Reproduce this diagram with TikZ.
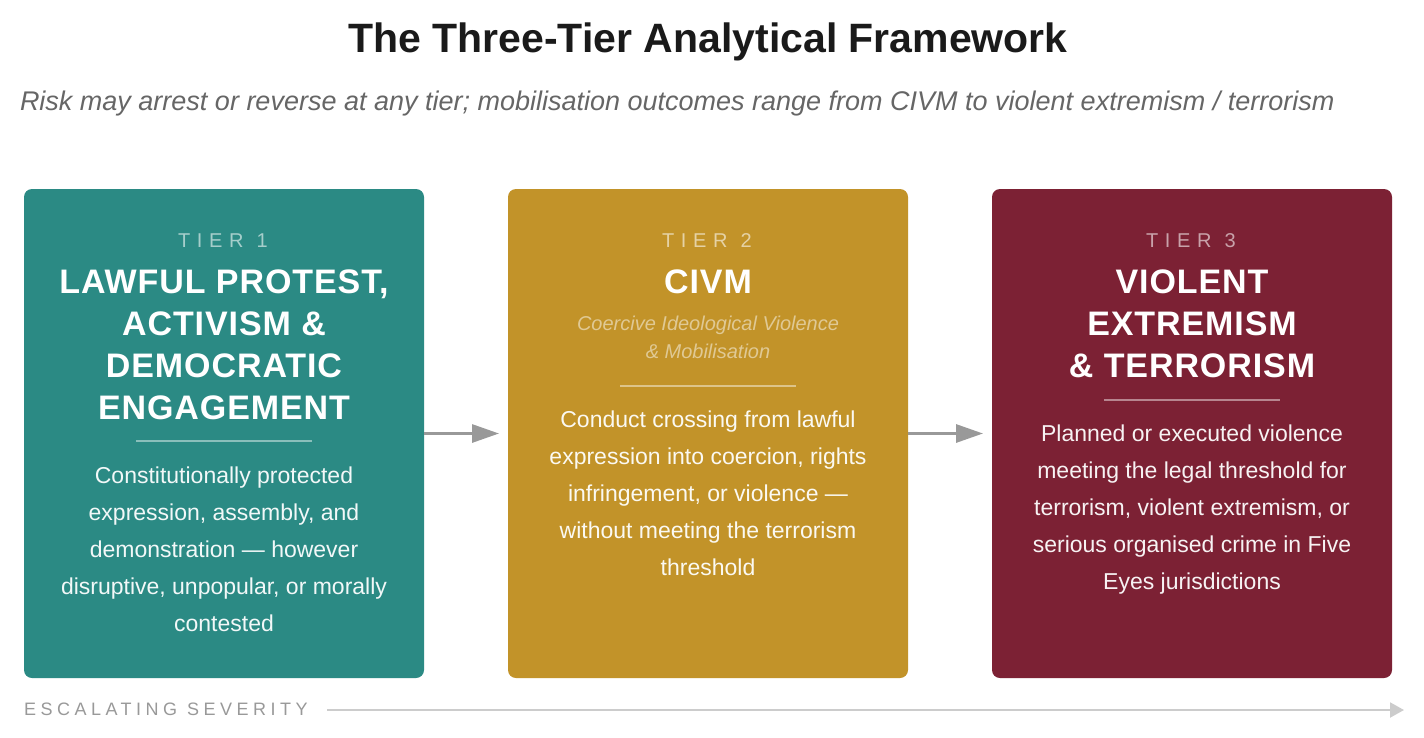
\documentclass[tikz,border=0pt]{standalone}
\usepackage{fontspec}
\setmainfont{Liberation Sans}
\newfontfamily\spacedfont[LetterSpace=33]{Liberation Sans}
\newfontfamily\escfont[LetterSpace=25]{Liberation Sans}
\newfontfamily\boxtitlefont[LetterSpace=2.7]{Liberation Sans Bold}
\usetikzlibrary{arrows.meta}
\definecolor{tealbox}{HTML}{2B8A84}
\definecolor{goldbox}{HTML}{C29329}
\definecolor{maroonbox}{HTML}{7C2134}
\definecolor{titlegray}{HTML}{1A1A1A}
\definecolor{subgray}{HTML}{666666}
\definecolor{arrowgray}{HTML}{999999}
\definecolor{linegray}{HTML}{CCCCCC}
\tikzset{
  tierbox/.style={rectangle, rounded corners=8pt, minimum width=400pt, minimum height=489pt, draw=none},
  tierlabel/.style={anchor=base, font=\fontsize{20}{24}\selectfont\spacedfont},
  tiertitle/.style={anchor=base, align=center, text=white, font=\fontsize{34}{42}\selectfont\boxtitlefont},
  tiersub/.style={anchor=base, align=center, font=\fontsize{20}{28}\selectfont\itshape},
  tierbody/.style={anchor=base, align=center, font=\fontsize{23}{37}\selectfont},
  sepline/.style={line width=1.5pt},
  flowarrow/.style={draw=arrowgray, line width=3pt, -{Triangle[length=27pt,width=18pt]}, shorten >=9pt},
  sevarrow/.style={draw=linegray, line width=2pt, -{Triangle[length=14pt,width=15pt]}}
}
\begin{document}
\begin{tikzpicture}[x=1pt,y=-1pt, every node/.style={inner sep=0pt, outer sep=0pt}]
\useasboundingbox[fill=white] (0,0) rectangle (1424,737);

% title and subtitle
\node[anchor=base, text=titlegray, font=\fontsize{41}{48}\selectfont\bfseries] (title) at (708,52) {The Three-Tier Analytical Framework};
\node[anchor=base west, text=subgray, font=\fontsize{27}{30}\selectfont\itshape] (subtitle) at (20,110) {Risk may arrest or reverse at any tier; mobilisation outcomes range from CIVM to violent extremism / terrorism};

% boxes
\node[tierbox, fill=tealbox] (t1) at (224,433.5) {};
\node[tierbox, fill=goldbox] (t2) at (708,433.5) {};
\node[tierbox, fill=maroonbox] (t3) at (1192,433.5) {};

% tier 1 (multi-line nodes are anchored at the baseline of their last line)
\node[tierlabel, text=white!58!tealbox] (t1lab) at (223,247) {TIER\hspace{0.66em}1};
\node[tiertitle] (t1title) at (224,419) {LAWFUL PROTEST,\\ACTIVISM \&\\DEMOCRATIC\\ENGAGEMENT};
\draw[sepline, draw=white!45!tealbox] (136,441) -- (312,441);
\node[tierbody, text=white!94!tealbox] (t1body) at (224,631) {Constitutionally protected\\expression, assembly, and\\demonstration — however\\disruptive, unpopular, or morally\\contested};

% tier 2
\node[tierlabel, text=white!58!goldbox] (t2lab) at (707,247) {TIER\hspace{0.66em}2};
\node[tiertitle] (t2title) at (708,293) {CIVM};
\node[tiersub, text=white!50!goldbox] (t2sub) at (708,358) {Coercive Ideological Violence\\\& Mobilisation};
\draw[sepline, draw=white!45!goldbox] (620,386) -- (796,386);
\node[tierbody, text=white!94!goldbox] (t2body) at (708,575) {Conduct crossing from lawful\\expression into coercion, rights\\infringement, or violence —\\without meeting the terrorism\\threshold};

% tier 3
\node[tierlabel, text=white!58!maroonbox] (t3lab) at (1191,247) {TIER\hspace{0.66em}3};
\node[tiertitle] (t3title) at (1192,377) {VIOLENT\\EXTREMISM\\\& TERRORISM};
\draw[sepline, draw=white!45!maroonbox] (1104,400) -- (1280,400);
\node[tierbody, text=white!94!maroonbox] (t3body) at (1192,589) {Planned or executed violence\\meeting the legal threshold for\\terrorism, violent extremism, or\\serious organised crime in Five\\Eyes jurisdictions};

% flow arrows
\draw[flowarrow] (t1.east) -- (t2.west);
\draw[flowarrow] (t2.east) -- (t3.west);

% severity axis
\node[anchor=base west, text=arrowgray, font=\fontsize{18}{22}\selectfont\escfont] (esc) at (24,715) {ESCALATING\hspace{0.55em}SEVERITY};
\coordinate (sevstart) at (327,710);
\coordinate (sevend) at (1404,710);
\draw[sevarrow] (sevstart) -- (sevend);
\end{tikzpicture}
\end{document}
